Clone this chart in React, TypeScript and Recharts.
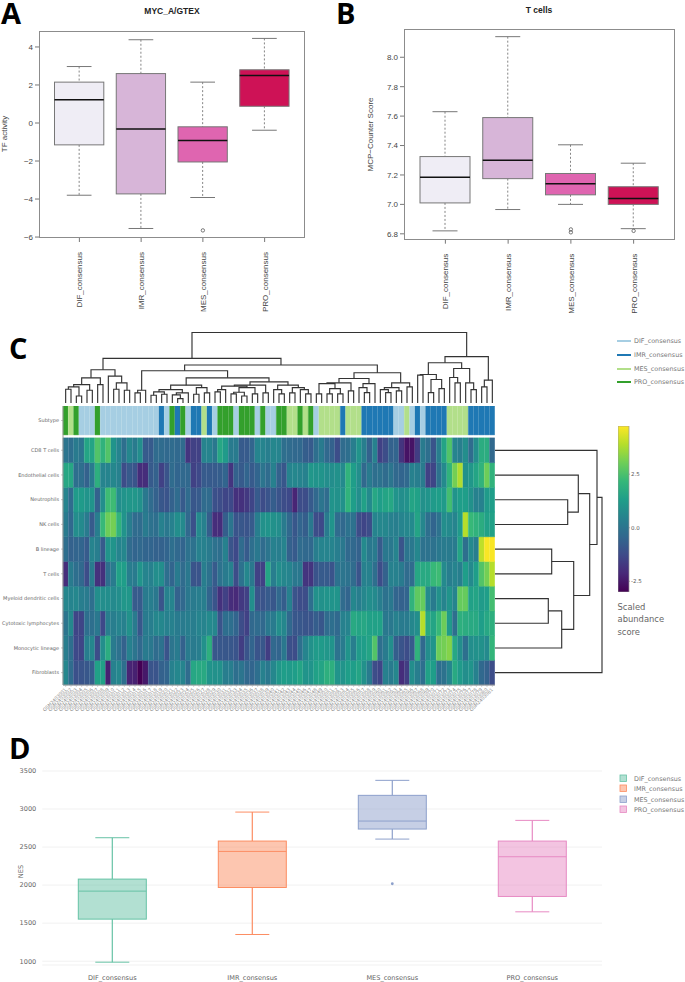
import React from "react";
import {
  Bar,
  BarChart,
  CartesianGrid,
  Cell,
  ComposedChart,
  Line,
  Scatter,
  ScatterChart,
  XAxis,
  YAxis,
} from "recharts";

const ARIAL = "'Liberation Sans', Arial, sans-serif";
const DEJAVU = "'DejaVu Sans', sans-serif";

const subtypes = ["DIF_consensus", "IMR_consensus", "MES_consensus", "PRO_consensus"];

// panel A, TF activity: low, q1, median, q3, high per subtype
const tfLow = [-3.8, -5.55, -3.92, -0.38];
const tfQ1 = [-1.15, -3.73, -2.05, 0.88];
const tfMedian = [1.22, -0.32, -0.92, 2.5];
const tfQ3 = [2.15, 2.6, -0.2, 2.8];
const tfHigh = [2.97, 4.38, 2.15, 4.45];
const tfOutlier = [null, null, -5.65, null];
const tfTicks = [-6, -4, -2, 0, 2, 4];

// panel B, T cells MCP-counter
const mcpLow = [6.82, 6.965, 7.0, 6.835];
const mcpQ1 = [7.01, 7.175, 7.065, 7.0];
const mcpMedian = [7.185, 7.3, 7.14, 7.04];
const mcpQ3 = [7.325, 7.59, 7.21, 7.12];
const mcpHigh = [7.63, 8.14, 7.405, 7.28];
const mcpOutlierA = [null, null, 6.81, 6.82];
const mcpOutlierB = [null, null, 6.83, null];
const mcpTicks = [6.8, 7.0, 7.2, 7.4, 7.6, 7.8, 8.0];

// panel D, NES
const nesLow = [987, 1351, 2605, 1649];
const nesQ1 = [1553, 1969, 2737, 1851];
const nesMedian = [1921, 2443, 2842, 2373];
const nesQ3 = [2079, 2579, 3180, 2579];
const nesHigh = [2623, 2960, 3377, 2851];
const nesOutlier = [null, null, 2018, null];
const nesTicks = [1000, 1500, 2000, 2500, 3000, 3500];

const puRd = ["#efedf5", "#d7b5d8", "#df65b0", "#ce1256"];
const set2 = ["#66c2a5", "#fc8d62", "#8da0cb", "#e78ac3"];
const subtypeColors: Record<string, string> = {
  D: "#a6cee3",
  I: "#1f78b4",
  M: "#b2df8a",
  P: "#33a02c",
};

// panel C, one letter per column: D/I/M/P
const columnSubtype =
  "PMPDDDPDDDDDDDDDDDIDPIPDIIMIDPPPDPPPDPDDPPMMPMPDMMMMIMMMIIIIIIDDMDIDIIIIMMMMIIIII".split("");

// sample ids can't be read at this size, these stand in for them
const sampleIds = [
  "GSM2403001", "GSM2403002", "GSM2403003", "GSM2403004", "GSM2403005", "GSM2403006", "GSM2403007", "GSM2403008", "GSM2403009",
  "GSM2403010", "GSM2403011", "GSM2403012", "GSM2403013", "GSM2403014", "GSM2403015", "GSM2403016", "GSM2403017", "GSM2403018",
  "GSM2403019", "GSM2403020", "GSM2403021", "GSM2403022", "GSM2403023", "GSM2403024", "GSM2403025", "GSM2403026", "GSM2403027",
  "GSM2403028", "GSM2403029", "GSM2403030", "GSM2403031", "GSM2403032", "GSM2403033", "GSM2403034", "GSM2403035", "GSM2403036",
  "GSM2403037", "GSM2403038", "GSM2403039", "GSM2403040", "GSM2403041", "GSM2403042", "GSM2403043", "GSM2403044", "GSM2403045",
  "GSM2403046", "GSM2403047", "GSM2403048", "GSM2403049", "GSM2403050", "GSM2403051", "GSM2403052", "GSM2403053", "GSM2403054",
  "GSM2403055", "GSM2403056", "GSM2403057", "GSM2403058", "GSM2403059", "GSM2403060", "GSM2403061", "GSM2403062", "GSM2403063",
  "GSM2403064", "GSM2403065", "GSM2403066", "GSM2403067", "GSM2403068", "GSM2403069", "GSM2403070", "GSM2403071", "GSM2403072",
  "GSM2403073", "GSM2403074", "GSM2403075", "GSM2403076", "GSM2403077", "GSM2403078", "GSM2403079", "GSM2403080", "GSM2403081",
];

const cd8Tcells = [
  0, -0.2, 0.2, 0, 1.5, 1.5, 2.6, 2, 2.6, 1,
  0.5, -0.2, 0.6, 0.2, 0.8, -0.8, -0.8, -0.3, -0.3, -0.4,
  -0.3, -0.4, -0.3, -1.8, -1.5, -1.5, 0.5, 0.5, 0.1, 1.6,
  1.2, 0.2, 0.2, -0.8, -0.8, -0.5, 0.5, 0.5, 0.3, 0.6,
  0.5, -0.2, -0.3, -0.4, -0.4, -0.7, -0.8, -0.2, 0.2, -0.4,
  -0.6, -1.2, -0.3, -0.2, 0.3, 1, 0.3, -0.6, 0.4, -1.5,
  -1.2, -0.6, -0.5, -1.8, -2.6, -2.6, -1.6, 0.2, -0.2, -1,
  0.3, 1.5, 2.6, 0.5, 0.3, 0.8, -0.3, 0.8, 1.8, 1.8, -0.4,
];
const endothelial = [
  1.6, 1.6, -0.2, -0.2, -0.6, 0.2, 1.9, 0.5, 0.5, 0.6,
  0.4, -1.2, -0.8, -1, -2, -2, -0.8, -0.6, -1.5, -1,
  -0.3, -0.5, -0.4, -0.4, -1.5, -1.3, -0.8, -0.8, -0.8, -0.7,
  -0.5, -1.8, -0.6, -0.8, -0.5, -0.8, -0.5, 0, -0.3, 0.4,
  -0.6, -0.9, 0.5, 0.6, 0.5, 0.4, 1.1, 1, 1, 0.8,
  0.8, 0.9, 0.7, 2, 1.3, 0.8, -0.4, 0.2, -0.2, -0.1,
  -0.3, 0, -0.4, -0.5, -0.4, 0.4, 0.3, 0.2, -1.5, -1.4,
  -0.1, 0.7, 2, 3.1, 3.8, 0.9, 1.1, 1.5, 2, 3, 2,
];
const neutrophils = [
  0.5, -0.3, 1.2, 1.2, 1, 1, -0.6, 0.8, 2.3, 2.3,
  0.8, 1, 1.1, 1.1, 0.9, 0.1, -0.3, -0.6, -0.9, -1,
  -0.6, -0.3, -0.8, -0.3, -0.9, -0.8, -0.3, -0.3, -1.1, -1.2,
  -1.4, -1.3, -1.9, -1.9, -1.7, -1.4, -0.8, -1.2, -1, -0.7,
  -1, -1.2, -1.3, -2.2, -1.2, -1.2, -0.8, -0.4, 0, -0.3,
  1, 0.9, 0.9, 2, 1.3, 0.8, 1.4, 0.7, 1.6, 1.3,
  1.5, 1.6, 1, 0.8, 0.9, 1.5, 1.4, 0.9, 1, 1.2,
  1.3, 1.2, 2.4, 1, 1.3, 1.3, 0.9, 0.4, 0.4, 1.2, 1.3,
];
const nkCells = [
  0.2, -0.4, 0.8, 0.7, 0.2, -0.8, 0.3, 2.2, 3, 3.1,
  2, 1, 0.3, -0.3, -0.3, 0.2, -0.1, -0.2, 0.4, 0.1,
  0.4, 0.8, 0.7, -0.4, -1.1, 0.7, 0.4, -0.7, -2, -2,
  -0.7, 0, -1, -0.9, -1, -0.8, 0.3, 0.9, 1, 0.9,
  0.8, 0.2, -0.4, -0.9, -0.5, -0.7, 0.1, -1.2, -1.3, 0.2,
  1, -0.3, -0.4, -0.1, -0.1, -1.2, -1.4, -1.2, 0.5, 0.6,
  0.6, 0.4, 0.3, 0.5, 0.6, 0.7, 1.5, 0.6, -0.2, -0.5,
  -0.1, 0.8, 0.7, 0.5, 1.2, 3.9, 2.2, 2, 1.8, 1.4, 1.4,
];
const bLineage = [
  -0.2, -0.6, -0.5, -0.5, -0.8, 0.5, 0.3, -0.8, 1, 1,
  0.5, 0.6, -0.3, -0.5, -0.4, -0.5, -0.5, -0.6, -0.6, -0.5,
  -0.2, -0.4, -0.5, -0.1, -0.1, 0.4, 0.4, 0.2, -0.1, -0.2,
  0.4, -1, -1.3, -0.3, -0.8, -0.2, 0.1, -0.3, 0, 0.4,
  0.3, 0.5, -0.6, -0.8, -0.3, -0.4, -0.4, 0.3, 0.5, 0.5,
  0.5, 0.3, 0.1, -0.4, -0.4, -0.6, 0.7, 0.1, 0.2, -0.8,
  0.1, 0.1, 0.5, -1, 0, 0.1, 0.6, -0.1, -0.1, -0.1,
  0.1, 0.2, 0.2, 0.2, 1.5, -0.2, 0.7, 0.3, 4, 4.7, 4.7,
];
const tCells = [
  -2, 0.2, -0.2, -0.4, -1.2, 0.2, -1.9, -1.9, -0.2, 0.2,
  1.4, 1.3, 0.3, 0.2, 1, 0.5, 0.4, 0.8, 0.8, -0.2,
  -0.5, 0.2, -0.3, 0.1, -1, -1, 0.3, -0.1, -0.8, -0.1,
  0.2, 0.4, -1.2, -0.1, 0.6, 0.1, -1.5, -1.5, 1.5, 0.3,
  0.8, 0.6, 0.5, 0.1, 0.1, -1.8, -1.8, -1, -0.8, -0.8,
  -1, -0.1, 0, -0.1, -0.3, -1, 0.4, 0.4, -0.2, -1.2,
  -0.6, 0.4, 0.4, 0.2, -0.3, -0.3, 1.6, 1.7, 1.7, 2.2,
  2.3, 0.7, 0.3, 0.5, 0.3, 1.3, 0.7, 1.3, 2.6, 3.1, 3.9,
];
const myeloidDendritic = [
  0.6, 0.5, 0.6, 0.3, 0.2, -0.2, 0.8, 0.8, 0.8, 0.7,
  0.8, 1.1, 1.1, -0.8, -0.8, 0.2, 0.3, 0.1, -1, 0.4,
  0.5, -0.6, -0.4, 0.1, 0.2, 0.3, 0.3, -0.5, -1, -1.9,
  -1.5, -2, -2.1, -1.7, -1.5, 0.8, -1, -1, -0.8, -0.9,
  -0.4, -0.7, 0.4, -1, -1.2, -1.2, -0.2, 0.9, 0.9, 1,
  1, 1, -0.3, -0.5, 0.6, 0.3, 0.6, 0.8, 0.7, 0.3,
  -0.1, 0.1, -0.5, -0.6, -0.5, 2, 2.8, 2.9, 0.7, 0.2,
  0.9, 0.5, 1, 0.5, 2.9, 2.9, 1.4, 1.5, 1.2, 1.3, 2.4,
];
const cytotoxic = [
  0, 0.6, -1.4, -1.4, -0.2, -0.2, 0.1, -1.3, 0.3, 0.3,
  0.5, 0.4, 0.9, 0.2, -0.9, 0.2, 0.3, 0.6, 0.6, 0.4,
  0.4, 0.2, 0.2, 0.3, 0.3, 0.5, 0.5, 0.7, 0.6, -1,
  -0.2, -0.2, -0.5, -1.2, -1.5, -0.4, -0.3, -0.4, 0.1, 0.2,
  0.8, 0.6, -0.4, -0.9, -0.9, -1, -1, -0.7, -0.9, -0.3,
  -0.2, -0.4, 0.4, 0.5, 1.7, 1.5, 1.6, 1.4, 1.4, 1.4,
  0.1, 0.1, 0.4, 0.2, 0.2, 0.6, 0.8, 3.9, 1.7, 1.5,
  2.2, 3, 1.2, -0.2, 1.9, 1.8, 1.7, 1.7, 1.3, 1.6, 1.9,
];
const monocytic = [
  0.3, -0.2, -1.3, -1.4, 0.3, 0.6, -1.2, 0.8, 1.8, 0.2,
  -0.1, -0.6, 0.4, 0, -0.4, 0.2, 0.1, -0.3, -0.1, -1,
  0, 0.2, -0.6, 0.2, 0.2, 0.3, 0.9, 1.9, -0.9, -0.9,
  -0.9, -0.9, -1, -1.6, -1, -0.5, -1, -0.9, -1.6, -0.4,
  -0.5, 0.1, -1.1, -1.2, -0.2, 0.5, 0.9, 1.2, 1.2, 1.1,
  1, -0.1, 0.2, 1, 0.3, 1.2, 1.3, 1.5, 2.6, -0.2,
  0.2, 0.8, -0.7, -1, -1.2, -0.8, 2, -0.4, 0.8, 1,
  3, 3.1, 3.3, 1.6, 0.8, -0.2, 0.8, 0.9, 0.9, 0.7, 2.1,
];
const fibroblasts = [
  0.6, -0.3, -1.1, -1, -0.9, -0.7, 1.4, 1.4, -2.3, 0.4,
  0.6, -0.2, -2.2, -2.3, -3, -2.5, -1, -1, -0.6, -0.5,
  0.4, 0.6, 0.5, -0.3, 1.6, 1.7, 1.7, 1, 0.9, 0.9,
  0.3, 0.3, -0.2, 0, -0.4, -0.5, -0.2, 0.4, 0.1, 0.6,
  1.1, 1.3, 1.2, 1.3, 1.5, 1, 1, 1.4, 1.5, 1.9,
  1.9, 1, 1, 1.3, 1.3, 1.5, 0.9, 0.2, -1.2, -1.4,
  0.4, 0.2, 0.6, -2, -1.6, 0.8, 0.3, -0.2, 1.4, 1.3,
  -0.2, -0.1, 0.5, 1.7, 1.2, 0.8, 1, 0.4, -0.4, -0.6, -1.2,
];

// top to bottom as in the figure
const heatmapRows = [
  { name: "CD8 T cells", values: cd8Tcells },
  { name: "Endothelial cells", values: endothelial },
  { name: "Neutrophils", values: neutrophils },
  { name: "NK cells", values: nkCells },
  { name: "B lineage", values: bLineage },
  { name: "T cells", values: tCells },
  { name: "Myeloid dendritic cells", values: myeloidDendritic },
  { name: "Cytotoxic lymphocytes", values: cytotoxic },
  { name: "Monocytic lineage", values: monocytic },
  { name: "Fibroblasts", values: fibroblasts },
];

// dendrograms: [merge height, left child, right child], a plain number is a leaf index
type Tree = number | [number, Tree, Tree];

const columnTree: Tree = [70,
  [44.3,
    [33,
      [25, [18.3, [16, [13.7, 0, 1], [7, 2, 3]], [12.7, 4, 5]], [18.3, 6, 7]],
      [26.7, 8, [20, [13.7, 9, 10], [12.7, 11, 12]]]],
    [37.7,
      [32,
        [12.7, [10, 13, 14], 15],
        [25,
          [17.7,
            [13.3, [11, [7.7, 16, 17], [8.7, 18, 19]], [10, [8, 20, [4.3, 21, 22]], 23]],
            [15.3, [8.7, 24, 25], [10, 26, 27]]],
          [21,
            [17.7,
              [16.7, [13.3, [11, 28, 29], 30], [15.3, [10.7, [9, 31, 32], [7, 33, 34]], [9, 35, 36]]],
              [10, 37, 38]],
            [17.7, [13.3, 39, [9, 40, 41]], [15.3, [10, 42, 43], [13.3, 44, [9, 45, 46]]]]]]],
      [30,
        [24.3,
          [20, [19.3, [9, 47, 48], [14.3, [9, 49, 50], [9, 51, 52]]], [12, 53, 54]],
          [19.3, [15.3, 55, [10.3, 56, 57]], 58]],
        [20, [15.3, [13.3, 59, [10.3, 60, 61]], [12, 62, 63]], [16, 64, 65]]]]],
  [46,
    [40,
      [28.3, [27.7, 66, 67], [23.3, [10.3, 68, 69], [14.3, 70, 71]]],
      [34.3, [25.3, 72, [20, 73, 74]], [20, 75, [13.3, 76, 77]]]],
    [22.7, [16, 78, 79], 80]]];

const rowTree: Tree = [107,
  [102, 0,
    [94.7,
      [83.3, 1, [72.7, 2, 3]],
      [78.7, [56.7, 4, 5], [66.7, [53.3, 6, 7], 8]]]],
  9];

const viridisStops = ["#440154", "#482878", "#3e4a89", "#31688e", "#26828e", "#1f9e89", "#35b779", "#6ece58", "#b5de2b", "#fde725"];
const COLOR_MIN = -3;
const COLOR_MAX = 4.75;

function viridis(v: number) {
  const t = (Math.min(COLOR_MAX, Math.max(COLOR_MIN, v)) - COLOR_MIN) / (COLOR_MAX - COLOR_MIN);
  const pos = t * (viridisStops.length - 1);
  const i = Math.min(Math.floor(pos), viridisStops.length - 2);
  const a = viridisStops[i];
  const b = viridisStops[i + 1];
  const ch = (hex: string, k: number) => parseInt(hex.slice(k, k + 2), 16);
  const mix = (k: number) => Math.round(ch(a, k) + (ch(b, k) - ch(a, k)) * (pos - i));
  return `rgb(${mix(1)},${mix(3)},${mix(5)})`;
}

function boxRows(low: number[], q1: number[], median: number[], q3: number[], high: number[], outA: any[], outB?: any[]) {
  return subtypes.map((name, i) => ({
    name,
    low: low[i],
    q1: q1[i],
    median: median[i],
    q3: q3[i],
    high: high[i],
    span: [low[i], high[i]],
    outA: outA[i],
    outB: outB ? outB[i] : null,
  }));
}

// the bar spans low..high, box parts are placed on the same pixels per unit
function makeBox(opts: {
  fills: string[];
  strokes: string[];
  capWidth: number;
  dash?: string;
  fillOpacity?: number;
  strokeWidth: number;
  medianWidth: number;
  medianColor?: string;
}) {
  return function BoxShape(props: any) {
    const { x, y, width, height, payload, index } = props;
    const perUnit = height / (payload.high - payload.low);
    const py = (v: number) => y + (payload.high - v) * perUnit;
    const cx = x + width / 2;
    const stroke = opts.strokes[index];
    return (
      <g>
        <line x1={cx} x2={cx} y1={py(payload.high)} y2={py(payload.q3)} stroke={stroke} strokeWidth={opts.dash ? 0.9 : 1.2} strokeDasharray={opts.dash} />
        <line x1={cx} x2={cx} y1={py(payload.q1)} y2={py(payload.low)} stroke={stroke} strokeWidth={opts.dash ? 0.9 : 1.2} strokeDasharray={opts.dash} />
        <line x1={cx - opts.capWidth / 2} x2={cx + opts.capWidth / 2} y1={py(payload.high)} y2={py(payload.high)} stroke={stroke} strokeWidth={1} />
        <line x1={cx - opts.capWidth / 2} x2={cx + opts.capWidth / 2} y1={py(payload.low)} y2={py(payload.low)} stroke={stroke} strokeWidth={1} />
        <rect x={x} y={py(payload.q3)} width={width} height={py(payload.q1) - py(payload.q3)} fill={opts.fills[index]} fillOpacity={opts.fillOpacity ?? 1} stroke={stroke} strokeWidth={opts.strokeWidth} />
        <line x1={x} x2={x + width} y1={py(payload.median)} y2={py(payload.median)} stroke={opts.medianColor ?? stroke} strokeWidth={opts.medianWidth} />
      </g>
    );
  };
}

function VerticalTick({ x, y, payload }: any) {
  return (
    <text x={x} y={y + 8} transform={`rotate(-90 ${x} ${y + 8})`} textAnchor="end" dy={3} fontSize={8} fontFamily={ARIAL} fill="#444">
      {payload.value}
    </text>
  );
}

function HollowDot(props: any) {
  const { cx, cy, value } = props;
  if (value == null || cy == null) return <g />;
  return <circle cx={cx} cy={cy} r={1.7} fill="none" stroke="#444" strokeWidth={0.7} />;
}

function NesDot(props: any) {
  const { cx, cy, value } = props;
  if (value == null || cy == null) return <g />;
  return <circle cx={cx} cy={cy} r={1.4} fill="#8da0cb" />;
}

function RBox(p: {
  left: number;
  width: number;
  top: number;
  bottom: number;
  pad: number;
  data: any[];
  domain: [number, number];
  ticks: number[];
  decimals: number;
  box: any;
  barSize: number;
  twoOutliers?: boolean;
}) {
  const chartH = 330;
  const axisW = 39;
  const plotW = p.width;
  return (
    <div style={{ position: "absolute", left: p.left - axisW, top: 0, width: axisW + plotW + 4, height: chartH }}>
      <div style={{ position: "absolute", left: axisW, top: p.top, width: plotW, height: p.bottom - p.top, border: "1.2px solid #8c8c8c", boxSizing: "border-box" }} />
      <ComposedChart
        width={axisW + plotW}
        height={chartH}
        data={p.data}
        margin={{ left: 0, right: 0, top: p.top, bottom: 0 }}
        style={{ position: "absolute", left: 0, top: 0 }}
      >
        <XAxis dataKey="name" type="category" height={chartH - p.bottom} interval={0} padding={{ left: p.pad, right: p.pad }} tick={<VerticalTick />} tickSize={4} axisLine={false} tickLine={{ stroke: "#777" }} />
        <YAxis
          type="number"
          width={axisW}
          domain={p.domain}
          ticks={p.ticks}
          interval={0}
          allowDataOverflow
          axisLine={false}
          tickSize={4}
          tickLine={{ stroke: "#777" }}
          tickFormatter={(v: number) => v.toFixed(p.decimals).replace("-", "\u2212")}
          tick={{ fontSize: 8, fontFamily: ARIAL, fill: "#444" }}
        />
        <Bar dataKey="span" barSize={p.barSize} shape={p.box} isAnimationActive={false} />
        <Line dataKey="outA" stroke="none" dot={<HollowDot />} activeDot={false} isAnimationActive={false} connectNulls={false} />
        {p.twoOutliers ? <Line dataKey="outB" stroke="none" dot={<HollowDot />} activeDot={false} isAnimationActive={false} connectNulls={false} /> : null}
      </ComposedChart>
    </div>
  );
}

// flatten a dendrogram into one bracket per merge
function brackets(tree: Tree) {
  const out: { a: number; ah: number; b: number; bh: number; h: number }[] = [];
  const walk = (t: Tree): { pos: number; h: number } => {
    if (typeof t === "number") return { pos: t + 0.5, h: 0 };
    const l = walk(t[1]);
    const r = walk(t[2]);
    out.push({ a: l.pos, ah: l.h, b: r.pos, bh: r.h, h: t[0] });
    return { pos: (l.pos + r.pos) / 2, h: t[0] };
  };
  walk(tree);
  return out;
}

const NoMark = () => <g />;
const TREE_LINE = { stroke: "#333", strokeWidth: 1.15 };

function ColumnDendrogram() {
  const links = brackets(columnTree);
  return (
    <div style={{ position: "absolute", left: 63, top: 332 }}>
      <ScatterChart width={432} height={71} margin={{ left: 0, right: 0, top: 0.5, bottom: 0 }}>
        <XAxis type="number" dataKey="x" domain={[0, 81]} hide />
        <YAxis type="number" dataKey="y" domain={[0, 70]} hide width={0} />
        {links.map((l, i) => (
          <Scatter
            key={i}
            data={[{ x: l.a, y: l.ah }, { x: l.a, y: l.h }, { x: l.b, y: l.h }, { x: l.b, y: l.bh }]}
            line={TREE_LINE}
            shape={<NoMark />}
            isAnimationActive={false}
          />
        ))}
      </ScatterChart>
    </div>
  );
}

function RowDendrogram() {
  const links = brackets(rowTree);
  return (
    <div style={{ position: "absolute", left: 495, top: 438 }}>
      <ScatterChart width={110} height={247} margin={{ left: 0, right: 0, top: 0, bottom: 0 }}>
        <XAxis type="number" dataKey="x" domain={[0, 110]} hide />
        <YAxis type="number" dataKey="y" domain={[0, 10]} reversed hide width={0} />
        {links.map((l, i) => (
          <Scatter
            key={i}
            data={[{ x: l.ah, y: l.a }, { x: l.h, y: l.a }, { x: l.h, y: l.b }, { x: l.bh, y: l.b }]}
            line={TREE_LINE}
            shape={<NoMark />}
            isAnimationActive={false}
          />
        ))}
      </ScatterChart>
    </div>
  );
}

const ROW_GAP = 0.12;
const STRIP = 1.17;

function SampleTick({ x, y, payload }: any) {
  return (
    <text x={x + 1} y={y + 1} transform={`rotate(-45 ${x + 1} ${y + 1})`} textAnchor="end" fontSize={4.6} fontFamily={DEJAVU} fill="#8a8a8a">
      {payload.value}
    </text>
  );
}

function Heatmap() {
  const table = sampleIds.map((id) => {
    const row: any = { id, gap: ROW_GAP, strip: STRIP };
    heatmapRows.forEach((r, k) => {
      row[`r${k}`] = 1;
    });
    return row;
  });
  const bottomUp = heatmapRows.map((r, k) => ({ ...r, key: `r${k}` })).reverse();
  const rowTicks = bottomUp.map((_, i) => i + 0.5);
  const stripTick = 10 + ROW_GAP + STRIP / 2;
  const tickName = (v: number) => (v === stripTick ? "Subtype" : bottomUp[Math.floor(v)].name);
  const RowTick = ({ x, y, payload }: any) => (
    <text x={x} y={y} dy={1.8} textAnchor="end" fontSize={5} fontFamily={DEJAVU} fill="#666">
      {tickName(payload.value)}
    </text>
  );
  return (
    <div style={{ position: "absolute", left: 0, top: 406 }}>
      <BarChart width={495} height={315} data={table} barCategoryGap={0} barGap={0} margin={{ left: 0, right: 0, top: 0, bottom: 0 }}>
        <XAxis dataKey="id" height={36} interval={0} tick={<SampleTick />} tickSize={2} axisLine={{ stroke: "#999" }} tickLine={{ stroke: "#aaa", strokeWidth: 0.5 }} />
        <YAxis
          type="number"
          width={63}
          domain={[0, 10 + ROW_GAP + STRIP]}
          ticks={[...rowTicks, stripTick]}
          interval={0}
          tickSize={2}
          axisLine={{ stroke: "#999" }}
          tickLine={{ stroke: "#888", strokeWidth: 0.5 }}
          tick={<RowTick />}
        />
        {bottomUp.map((r) => (
          <Bar key={r.key} dataKey={r.key} stackId="cells" isAnimationActive={false}>
            {r.values.map((v, i) => (
              <Cell key={i} fill={viridis(v)} stroke={viridis(v)} strokeWidth={0.5} />
            ))}
          </Bar>
        ))}
        <Bar dataKey="gap" stackId="cells" fill="none" isAnimationActive={false} />
        <Bar dataKey="strip" stackId="cells" isAnimationActive={false}>
          {columnSubtype.map((s, i) => (
            <Cell key={i} fill={subtypeColors[s]} stroke={subtypeColors[s]} strokeWidth={0.4} />
          ))}
        </Bar>
      </BarChart>
    </div>
  );
}

const colorbarData = [{ name: "score", span: [COLOR_MIN, COLOR_MAX] }];

function Colorbar() {
  return (
    <div style={{ position: "absolute", left: 618, top: 425.5 }}>
      <BarChart width={36} height={166} data={colorbarData} barCategoryGap={0} margin={{ left: 0, right: 0, top: 0, bottom: 0 }}>
        <defs>
          <linearGradient id="viridisBar" x1="0" y1="1" x2="0" y2="0">
            {viridisStops.map((c, i) => (
              <stop key={c} offset={i / (viridisStops.length - 1)} stopColor={c} />
            ))}
          </linearGradient>
        </defs>
        <XAxis dataKey="name" hide />
        <YAxis
          orientation="right"
          type="number"
          width={25}
          domain={[COLOR_MIN, COLOR_MAX]}
          ticks={[-2.5, 0, 2.5]}
          interval={0}
          tickSize={1}
          tickMargin={1}
          axisLine={false}
          tickLine={{ stroke: "#777", strokeWidth: 0.5 }}
          tickFormatter={(v: number) => v.toFixed(1)}
          tick={{ fontSize: 5.5, fontFamily: DEJAVU, fill: "#555" }}
        />
        <Bar dataKey="span" fill="url(#viridisBar)" stroke="#999" strokeWidth={0.7} isAnimationActive={false} />
      </BarChart>
    </div>
  );
}

function NesBox() {
  const data = boxRows(nesLow, nesQ1, nesMedian, nesQ3, nesHigh, nesOutlier);
  const box = makeBox({ fills: set2, strokes: set2, capWidth: 34, fillOpacity: 0.5, strokeWidth: 1, medianWidth: 1 });
  return (
    <div style={{ position: "absolute", left: 0, top: 761 }}>
      <ComposedChart width={602.3} height={221} data={data} margin={{ left: 0, right: 0, top: 10, bottom: 0 }}>
        <CartesianGrid vertical={false} stroke="#f1f1f1" />
        <XAxis dataKey="name" type="category" height={17} interval={0} axisLine={false} tickLine={false} tickMargin={4} tick={{ fontSize: 6.6, fontFamily: DEJAVU, fill: "#666" }} />
        <YAxis
          type="number"
          width={42.3}
          domain={[950, 3500]}
          ticks={nesTicks}
          interval={0}
          allowDataOverflow
          axisLine={false}
          tickLine={false}
          tickMargin={0}
          tick={{ fontSize: 6.6, fontFamily: DEJAVU, fill: "#666" }}
        />
        <Bar dataKey="span" barSize={68} shape={box} isAnimationActive={false} />
        <Line dataKey="outA" stroke="none" dot={<NesDot />} activeDot={false} isAnimationActive={false} />
      </ComposedChart>
    </div>
  );
}

// panel letters, titles, axis names, legends and the colour bar caption
function Overlay() {
  const letter = { fontFamily: "'Open Sans', sans-serif", fontWeight: 700, fontSize: 29, fill: "#000" };
  const legendText = { fontFamily: DEJAVU, fontSize: 6.4, fill: "#777" };
  const heatmapLegendY = [341, 355, 369, 382];
  const heatmapLegendColors = ["D", "I", "M", "P"];
  const nesLegendY = [778, 788, 799, 809];
  const caption = ["Scaled", "abundance", "score"];
  return (
    <svg width={685} height={982} style={{ position: "absolute", left: 0, top: 0, pointerEvents: "none" }}>
      <text x={1} y={24} {...letter}>A</text>
      <text x={336} y={24} {...letter}>B</text>
      <text x={9} y={359} {...letter}>C</text>
      <text x={9} y={759} {...letter}>D</text>
      <text x={172} y={14} textAnchor="middle" fontFamily={ARIAL} fontWeight={700} fontSize={8.5} fill="#222">MYC_A/GTEX</text>
      <text x={539} y={12.5} textAnchor="middle" fontFamily={ARIAL} fontWeight={700} fontSize={8.5} fill="#222">T cells</text>
      <text transform="translate(7 134) rotate(-90)" textAnchor="middle" fontFamily={ARIAL} fontSize={8} fill="#444">TF activity</text>
      <text transform="translate(372.5 134.5) rotate(-90)" textAnchor="middle" fontFamily={ARIAL} fontSize={8} fill="#444">{"MCP\u2212Counter Score"}</text>
      <text transform="translate(23 871.5) rotate(-90)" textAnchor="middle" fontFamily={DEJAVU} fontSize={6.6} fill="#666">NES</text>
      {subtypes.map((s, i) => (
        <g key={s}>
          <line x1={617} x2={631} y1={heatmapLegendY[i]} y2={heatmapLegendY[i]} stroke={subtypeColors[heatmapLegendColors[i]]} strokeWidth={2} />
          <text x={634} y={heatmapLegendY[i] + 2.2} {...legendText}>{s}</text>
        </g>
      ))}
      {subtypes.map((s, i) => (
        <g key={s}>
          <rect x={620} y={nesLegendY[i] - 3} width={6.5} height={6.5} fill={set2[i]} fillOpacity={0.5} stroke={set2[i]} strokeWidth={0.8} />
          <text x={634} y={nesLegendY[i] + 2.5} {...legendText}>{s}</text>
        </g>
      ))}
      {caption.map((t, i) => (
        <text key={t} x={617.5} y={610 + i * 12.4} fontFamily={DEJAVU} fontSize={8.4} fill="#666">{t}</text>
      ))}
    </svg>
  );
}

export default function App() {
  const tfData = boxRows(tfLow, tfQ1, tfMedian, tfQ3, tfHigh, tfOutlier);
  const mcpData = boxRows(mcpLow, mcpQ1, mcpMedian, mcpQ3, mcpHigh, mcpOutlierA, mcpOutlierB);
  const rStrokes = ["#777", "#777", "#777", "#777"];
  const tfBox = makeBox({ fills: puRd, strokes: rStrokes, capWidth: 24.7, dash: "2 2", strokeWidth: 1, medianWidth: 1.5, medianColor: "#111" });
  const mcpBox = makeBox({ fills: puRd, strokes: rStrokes, capWidth: 25, dash: "2 2", strokeWidth: 1, medianWidth: 1.5, medianColor: "#111" });
  return (
    <div style={{ position: "absolute", left: 0, top: 0, width: 685, height: 982, background: "#fff", overflow: "hidden" }}>
      <RBox left={39} width={266} top={31} bottom={238} pad={9.5} data={tfData} domain={[-6.05, 4.84]} ticks={tfTicks} decimals={0} box={tfBox} barSize={49.3} />
      <RBox left={404} width={271} top={29.3} bottom={239.7} pad={10} data={mcpData} domain={[6.76, 8.19]} ticks={mcpTicks} decimals={1} box={mcpBox} barSize={50} twoOutliers />
      <ColumnDendrogram />
      <Heatmap />
      <RowDendrogram />
      <Colorbar />
      <NesBox />
      <Overlay />
    </div>
  );
}
